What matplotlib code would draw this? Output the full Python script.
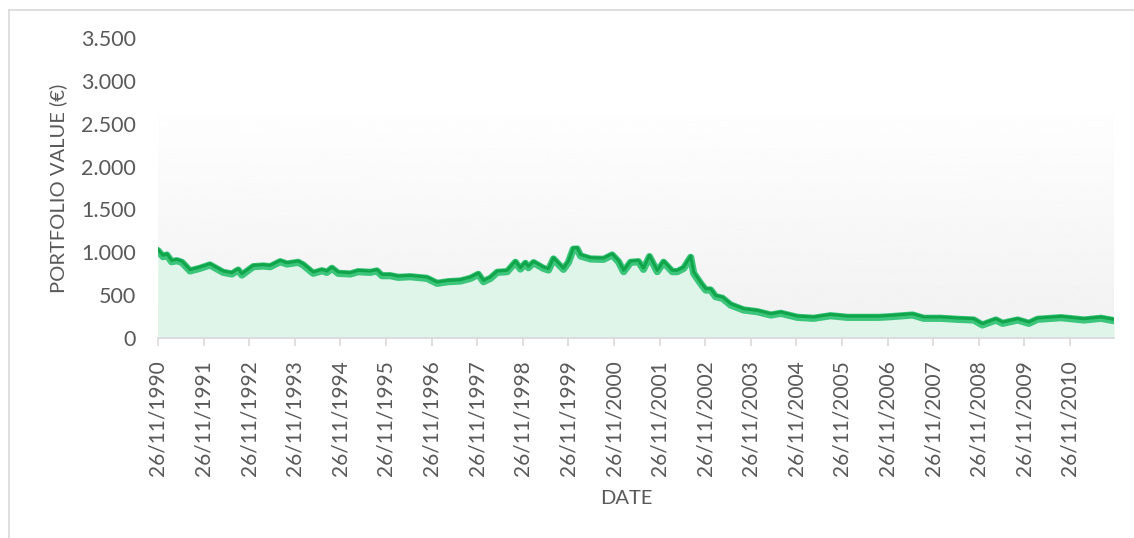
import numpy as np
import pandas as pd
import matplotlib
matplotlib.use("Agg")
import matplotlib.pyplot as plt
import matplotlib.transforms as mtransforms
from matplotlib.lines import Line2D
from matplotlib.ticker import FuncFormatter

plt.rcParams['font.family'] = ['Lato', 'DejaVu Sans']

# values (portfolio value in EUR)
dates = [
    "1990-11-26", "1991-01-05", "1991-02-05", "1991-03-15", "1991-04-25", "1991-06-05",
    "1991-08-10", "1991-10-28", "1992-01-16", "1992-05-01", "1992-07-10", "1992-08-29",
    "1992-09-28", "1992-12-28", "1993-03-17", "1993-05-13", "1993-08-01", "1993-09-24",
    "1993-12-23", "1994-02-01", "1994-04-22", "1994-07-01", "1994-08-10", "1994-09-19",
    "1994-11-08", "1995-02-14", "1995-04-18", "1995-07-23", "1995-09-15", "1995-10-25",
    "1995-12-30", "1996-03-03", "1996-06-08", "1996-10-19", "1997-01-09", "1997-04-08",
    "1997-07-14", "1997-10-03", "1997-12-05", "1998-01-15", "1998-03-12", "1998-05-05",
    "1998-07-24", "1998-09-28", "1998-11-07", "1998-12-17", "1999-01-10", "1999-02-20",
    "1999-05-10", "1999-06-20", "1999-07-30", "1999-09-08", "1999-10-18", "1999-11-27",
    "2000-01-04", "2000-02-05", "2000-03-03", "2000-05-22", "2000-09-03", "2000-11-11",
    "2001-01-01", "2001-02-11", "2001-04-08", "2001-06-10", "2001-07-20", "2001-09-06",
    "2001-11-07", "2001-12-28", "2002-03-08", "2002-04-17", "2002-06-07", "2002-08-02",
    "2002-08-26", "2002-10-20", "2002-11-30", "2003-01-09", "2003-02-18", "2003-04-14",
    "2003-06-18", "2003-09-30", "2004-01-18", "2004-05-05", "2004-07-24", "2004-12-04",
    "2005-04-13", "2005-08-27", "2006-01-10", "2006-05-19", "2006-09-17", "2006-12-22",
    "2007-06-15", "2007-09-12", "2008-01-26", "2008-06-10", "2008-10-17", "2008-12-25",
    "2009-04-12", "2009-06-05", "2009-10-04", "2010-01-01", "2010-03-11", "2010-09-16",
    "2011-03-19", "2011-08-02", "2011-11-14",
]
values = [
    1018, 949, 968, 890, 902, 883,
    782, 813, 852, 766, 747, 793,
    735, 832, 840, 832, 890, 863,
    883, 852, 755, 785, 766, 813,
    755, 747, 774, 766, 782, 727,
    727, 708, 715, 696, 638, 657,
    665, 696, 743, 657, 696, 766,
    774, 883, 805, 871, 820, 879,
    813, 793, 922, 860, 801, 883,
    1035, 1038, 957, 922, 918, 968,
    890, 774, 883, 890, 801, 949,
    774, 883, 774, 774, 813, 941,
    755, 638, 560, 560, 482, 463,
    385, 327, 307, 268, 288, 241,
    230, 260, 241, 241, 241, 249,
    268, 230, 230, 218, 210, 152,
    210, 171, 210, 171, 218, 237,
    210, 230, 202,
]
year_ticks = ["26/11/%d" % y for y in range(1990, 2011)]

x = pd.to_datetime(dates)
tick_pos = pd.to_datetime(["%d-11-26" % y for y in range(1990, 2011)])

fig = plt.figure(figsize=(11.34, 5.38), dpi=100)
ax = fig.add_axes([158 / 1134, 200 / 538, 956 / 1134, 300 / 538])

# soft grey gradient behind the plot
t = np.linspace(0, 1, 256)[:, None]
shade = np.clip(t / 0.8, 0, 1)
grad = 0.945 + (1 - 0.945) * shade
ax.imshow(grad, extent=[0, 1, 0, 1], origin='lower', transform=ax.transAxes,
          cmap='gray', vmin=0, vmax=1, aspect='auto', zorder=0, interpolation='bicubic')

ax.fill_between(x, values, 0, color='#dff5e9', zorder=1, lw=0)
ax.plot(x, values, color='#3cc57b', lw=5.2, zorder=2, solid_capstyle='round')
up = mtransforms.offset_copy(ax.transData, fig=fig, x=0, y=1.3, units='dots')
ax.plot(x, values, color='#10a54b', lw=2.2, zorder=3, transform=up)

ax.set_xlim(x[0], x[-1])
ax.set_ylim(0, 3500)
ax.set_yticks(np.arange(0, 3501, 500))
ax.yaxis.set_major_formatter(FuncFormatter(lambda v, p: "{:,.0f}".format(v).replace(",", ".")))
ax.set_xticks(tick_pos)
ax.set_xticklabels(year_ticks, rotation=90)

for s in ['top', 'right', 'left']:
    ax.spines[s].set_visible(False)
ax.spines['bottom'].set_color('#d9d9d9')
ax.spines['bottom'].set_linewidth(1.2)
ax.tick_params(axis='x', length=6, width=1.2, color='#d9d9d9', pad=10,
               labelsize=15, labelcolor='#595959')
ax.tick_params(axis='y', length=0, pad=16, labelsize=15.5, labelcolor='#595959')

ax.set_ylabel("PORTFOLIO VALUE (€)", fontsize=14.5, color='#595959')
ax.yaxis.set_label_coords(-0.0952, 0.5)
ax.set_xlabel("DATE", fontsize=14.5, color='#595959')
ax.xaxis.set_label_coords(0.49, -0.505)

# outer chart frame (left and top edges visible)
fig.add_artist(Line2D([8.5 / 1134, 8.5 / 1134], [0, 528 / 538], color='#d9d9d9', lw=1.2))
fig.add_artist(Line2D([8.5 / 1134, 1], [528 / 538, 528 / 538], color='#d9d9d9', lw=1.2))

fig.savefig("out.png", dpi=100)
